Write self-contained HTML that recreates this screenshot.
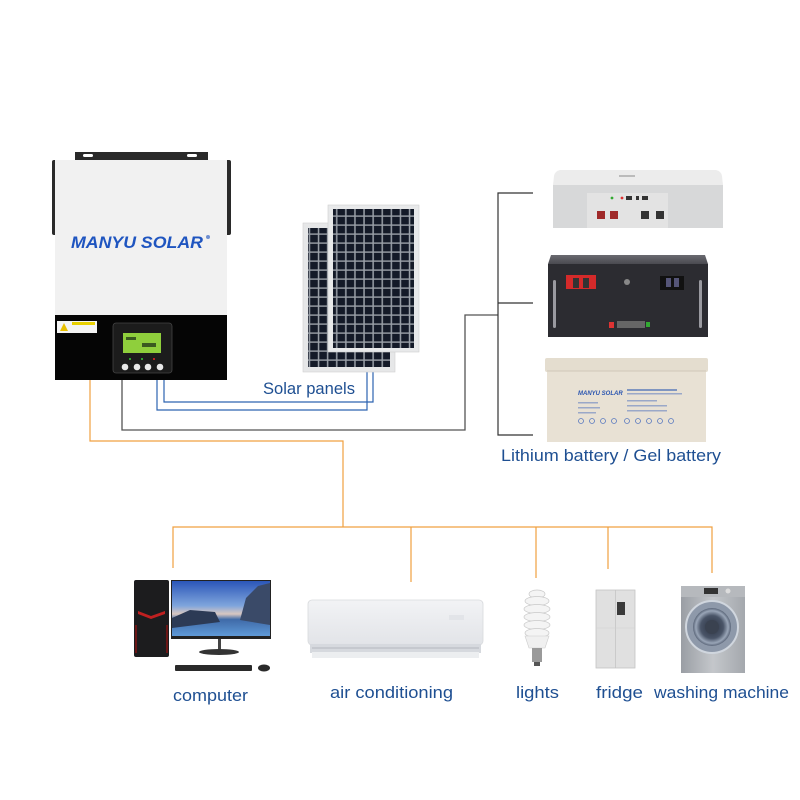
<!DOCTYPE html>
<html><head><meta charset="utf-8"><style>
html,body{margin:0;padding:0;background:#fff;}
svg{display:block;}
text{font-family:"Liberation Sans",sans-serif;}
</style></head><body>
<svg width="800" height="800" viewBox="0 0 800 800" xmlns="http://www.w3.org/2000/svg">
<defs>
<pattern id="cells" x="0" y="0" width="9.1" height="9" patternUnits="userSpaceOnUse">
<rect width="9.1" height="9" fill="#9aa0a8"/>
<rect x="0.8" y="0.8" width="7.6" height="7.6" fill="#141a28"/>
</pattern>
<linearGradient id="sky" x1="0" y1="0" x2="0" y2="1">
<stop offset="0" stop-color="#2b56b8"/><stop offset="0.45" stop-color="#7fa5dc"/><stop offset="0.6" stop-color="#d9c7c0"/><stop offset="0.7" stop-color="#3f6aa8"/><stop offset="1" stop-color="#5f9ad8"/>
</linearGradient>
<linearGradient id="ac" x1="0" y1="0" x2="0" y2="1">
<stop offset="0" stop-color="#f2f3f5"/><stop offset="1" stop-color="#e2e4e8"/>
</linearGradient>
<linearGradient id="wm" x1="0" y1="0" x2="1" y2="0">
<stop offset="0" stop-color="#9a9ea4"/><stop offset="0.5" stop-color="#c4c7cb"/><stop offset="1" stop-color="#a4a8ad"/>
</linearGradient>
<linearGradient id="btop" x1="0" y1="0" x2="0" y2="1">
<stop offset="0" stop-color="#6a6a70"/><stop offset="1" stop-color="#4a4a50"/>
</linearGradient>
<radialGradient id="door" cx="0.5" cy="0.5" r="0.5">
<stop offset="0" stop-color="#2a3140"/><stop offset="0.6" stop-color="#4a5568"/><stop offset="0.85" stop-color="#9aa6b8"/><stop offset="1" stop-color="#5a6578"/>
</radialGradient>
</defs>

<!-- ===== Inverter ===== -->
<rect x="75" y="152" width="133" height="8" fill="#2a2a2a"/>
<rect x="83" y="154" width="10" height="3" rx="1.5" fill="#fff"/>
<rect x="187" y="154" width="10" height="3" rx="1.5" fill="#fff"/>
<rect x="52" y="160" width="6" height="75" rx="2" fill="#2a2a2a"/>
<rect x="225" y="160" width="6" height="75" rx="2" fill="#2a2a2a"/>
<rect x="55" y="160" width="172" height="156" fill="#f1f1f1"/>
<rect x="55" y="315" width="172" height="65" fill="#050505"/>
<text x="71" y="248" font-size="16.5" font-weight="bold" font-style="italic" fill="#1f55c0" textLength="132" lengthAdjust="spacingAndGlyphs">MANYU SOLAR</text>
<circle cx="208" cy="237" r="2" fill="#6f8fd0"/>
<rect x="57" y="321" width="40" height="12" fill="#f4f4f4"/>
<polygon points="60,331 64,323 68,331" fill="#e8c000"/>
<rect x="72" y="322" width="23" height="3" fill="#e8d000"/>
<rect x="113" y="323" width="59" height="50" rx="3" fill="#1c1c1c" stroke="#444" stroke-width="0.8"/>
<rect x="123" y="333" width="38" height="20" fill="#8fcf3c"/>
<rect x="126" y="337" width="10" height="3" fill="#3a5a20"/>
<rect x="142" y="343" width="14" height="4" fill="#3a5a20"/>
<circle cx="130" cy="359" r="1" fill="#3c3"/><circle cx="142" cy="359" r="1" fill="#3c3"/><circle cx="154" cy="359" r="1" fill="#e22"/>
<circle cx="125" cy="367" r="3.3" fill="#e8e8e8"/><circle cx="137" cy="367" r="3.3" fill="#e8e8e8"/><circle cx="148" cy="367" r="3.3" fill="#e8e8e8"/><circle cx="160" cy="367" r="3.3" fill="#e8e8e8"/>

<!-- ===== Wires ===== -->
<g fill="none" stroke-width="1.2">
<polyline points="90,380 90,441 343,441 343,527" stroke="#f0a040"/>
<polyline points="173,568 173,527 712,527 712,573" stroke="#f0a040"/>
<line x1="411" y1="527" x2="411" y2="582" stroke="#f0a040"/>
<line x1="536" y1="527" x2="536" y2="578" stroke="#f0a040"/>
<line x1="608" y1="527" x2="608" y2="569" stroke="#f0a040"/>
<polyline points="122,380 122,430 465,430 465,315 498,315" stroke="#555" stroke-width="1.3"/>
<polyline points="533,193 498,193 498,435 533,435" stroke="#333"/>
<line x1="498" y1="303" x2="533" y2="303" stroke="#333"/>
<polyline points="157,380 157,410 367,410 367,367" stroke="#2d63b0"/>
<polyline points="164,380 164,402 373,402 373,367" stroke="#2d63b0"/>
</g>

<!-- ===== Solar panels ===== -->
<rect x="303" y="223" width="92" height="149" fill="#e6e7e8" stroke="#d0d0d0" stroke-width="0.6"/>
<rect x="308" y="228" width="82" height="139" fill="url(#cells)"/>
<rect x="328" y="205" width="91" height="147" fill="#e8e9ea" stroke="#cfcfcf" stroke-width="0.6"/>
<rect x="333" y="209" width="81" height="139" fill="url(#cells)"/>
<text x="263" y="394" font-size="16.5" fill="#1e4f92" textLength="92" lengthAdjust="spacingAndGlyphs">Solar panels</text>

<!-- ===== Batteries ===== -->
<!-- white lithium -->
<path d="M560,170 L716,170 Q721,171 722,176 L723,185 L553,185 L554,176 Q555,171 560,170 Z" fill="#ececec"/>
<rect x="553" y="185" width="170" height="43" fill="#d7d8d9"/>
<rect x="587" y="193" width="81" height="35" fill="#e3e3e3"/>
<rect x="619" y="175" width="16" height="2" fill="#bbb"/>
<circle cx="612" cy="198" r="1.4" fill="#3a3"/><circle cx="622" cy="198" r="1.4" fill="#d33"/>
<rect x="626" y="196" width="6" height="4" fill="#333"/><rect x="636" y="196" width="3" height="4" fill="#333"/><rect x="642" y="196" width="6" height="4" fill="#333"/>
<rect x="597" y="211" width="8" height="8" fill="#a02a2a"/><rect x="610" y="211" width="8" height="8" fill="#a02a2a"/>
<rect x="641" y="211" width="8" height="8" fill="#333"/><rect x="656" y="211" width="8" height="8" fill="#333"/>
<!-- black lithium -->
<polygon points="551,255 705,255 708,264 548,264" fill="url(#btop)"/>
<rect x="548" y="264" width="160" height="73" fill="#2c2c31"/>
<rect x="566" y="275" width="30" height="14" fill="#d42a2a"/>
<rect x="573" y="278" width="6" height="10" fill="#333"/><rect x="583" y="278" width="6" height="10" fill="#333"/>
<rect x="660" y="276" width="24" height="14" fill="#111"/>
<rect x="666" y="278" width="5" height="9" fill="#557"/><rect x="674" y="278" width="5" height="9" fill="#557"/>
<circle cx="627" cy="282" r="3" fill="#888"/>
<rect x="553" y="280" width="3" height="48" rx="1.5" fill="#9a9aa0"/>
<rect x="699" y="280" width="3" height="48" rx="1.5" fill="#9a9aa0"/>
<rect x="609" y="322" width="5" height="6" fill="#d33"/>
<rect x="617" y="321" width="28" height="7" fill="#666"/>
<rect x="646" y="322" width="4" height="5" fill="#3a3"/>
<!-- gel -->
<rect x="545" y="358" width="163" height="14" rx="2" fill="#e4ddcf"/>
<rect x="547" y="371" width="159" height="71" fill="#e8e1d4"/>
<line x1="547" y1="371" x2="706" y2="371" stroke="#d0c8b8" stroke-width="1"/>
<text x="578" y="395" font-size="6" font-weight="bold" font-style="italic" fill="#2a55b0">MANYU SOLAR</text>
<rect x="627" y="389" width="50" height="2" fill="#7f95c0"/>
<rect x="627" y="393" width="55" height="1.5" fill="#9aa8c8"/>
<rect x="578" y="402" width="20" height="1.5" fill="#9aa8c8"/><rect x="578" y="407" width="22" height="1.5" fill="#9aa8c8"/><rect x="578" y="412" width="18" height="1.5" fill="#9aa8c8"/>
<rect x="627" y="400" width="30" height="1.5" fill="#9aa8c8"/><rect x="627" y="405" width="40" height="1.5" fill="#9aa8c8"/><rect x="627" y="410" width="40" height="1.5" fill="#9aa8c8"/>
<g fill="none" stroke="#5a7ac0" stroke-width="0.8">
<circle cx="581" cy="421" r="2.5"/><circle cx="592" cy="421" r="2.5"/><circle cx="603" cy="421" r="2.5"/><circle cx="614" cy="421" r="2.5"/><circle cx="627" cy="421" r="2.5"/><circle cx="638" cy="421" r="2.5"/><circle cx="649" cy="421" r="2.5"/><circle cx="660" cy="421" r="2.5"/><circle cx="671" cy="421" r="2.5"/>
</g>
<text x="501" y="461" font-size="17" fill="#1e4f92" textLength="220" lengthAdjust="spacingAndGlyphs">Lithium battery / Gel battery</text>

<!-- ===== Computer ===== -->
<rect x="134" y="580" width="35" height="77" rx="2" fill="#1c1c1e"/>
<polygon points="138,611 151,616 165,611 165,614 151,619 138,614" fill="#c02020"/>
<rect x="135" y="625" width="2" height="28" fill="#6a1515"/><rect x="166" y="625" width="2" height="28" fill="#6a1515"/>
<rect x="171" y="580" width="100" height="59" fill="#222"/>
<rect x="172" y="581" width="98" height="55" fill="url(#sky)"/>
<polygon points="240,620 246,598 258,586 270,583 270,625" fill="#3a4a68"/>
<polygon points="172,618 190,610 215,612 220,622 172,628" fill="#2c3a55"/>
<rect x="218" y="639" width="3" height="12" fill="#444"/>
<ellipse cx="219" cy="652" rx="20" ry="3" fill="#333"/>
<rect x="175" y="665" width="77" height="6" rx="1" fill="#2a2a2a"/>
<ellipse cx="264" cy="668" rx="6" ry="3.5" fill="#2a2a2a"/>
<text x="173" y="701" font-size="17" fill="#1e4f92" textLength="75" lengthAdjust="spacingAndGlyphs">computer</text>

<!-- ===== AC ===== -->
<rect x="308" y="600" width="175" height="45" rx="4" fill="url(#ac)" stroke="#d8dadd" stroke-width="0.8"/>
<rect x="310" y="644" width="171" height="9" fill="#d6d9de"/>
<rect x="312" y="652" width="167" height="6" fill="#eceef0"/>
<line x1="312" y1="648" x2="479" y2="648" stroke="#a8acb2" stroke-width="0.8"/>
<rect x="449" y="615" width="15" height="5" fill="#e2e4e8"/>
<text x="330" y="698" font-size="17" fill="#1e4f92" textLength="123" lengthAdjust="spacingAndGlyphs">air conditioning</text>

<!-- ===== Light bulb ===== -->
<g fill="#f4f4f4" stroke="#c8c8c8" stroke-width="0.7">
<ellipse cx="537" cy="594" rx="8" ry="4"/>
<ellipse cx="537" cy="601" rx="12" ry="4.5"/>
<ellipse cx="537" cy="609" rx="13" ry="4.5"/>
<ellipse cx="537" cy="617" rx="13" ry="4.5"/>
<ellipse cx="537" cy="625" rx="13" ry="4.5"/>
<ellipse cx="537" cy="633" rx="12" ry="4.5"/>
</g>
<polygon points="525,636 549,636 545,648 529,648" fill="#f0f0f0" stroke="#ccc" stroke-width="0.6"/>
<rect x="532" y="648" width="10" height="14" fill="#9a9a9a"/>
<rect x="534" y="662" width="6" height="4" fill="#555"/>
<text x="516" y="698" font-size="17" fill="#1e4f92" textLength="43" lengthAdjust="spacingAndGlyphs">lights</text>

<!-- ===== Fridge ===== -->
<rect x="596" y="590" width="39" height="78" fill="#e0e0e0" stroke="#c4c4c4" stroke-width="0.8"/>
<line x1="615.5" y1="590" x2="615.5" y2="668" stroke="#c4c4c4" stroke-width="0.8"/>
<line x1="596" y1="628" x2="635" y2="628" stroke="#cfcfcf" stroke-width="0.6"/>
<rect x="617" y="602" width="8" height="13" fill="#3a3a3a"/>
<text x="596" y="698" font-size="17" fill="#1e4f92" textLength="47" lengthAdjust="spacingAndGlyphs">fridge</text>

<!-- ===== Washing machine ===== -->
<rect x="681" y="586" width="64" height="87" fill="url(#wm)"/>
<rect x="681" y="586" width="64" height="11" fill="#b6b9bd"/>
<rect x="704" y="588" width="14" height="6" fill="#333"/>
<circle cx="728" cy="591" r="2.5" fill="#ddd"/>
<circle cx="712" cy="627" r="26" fill="#8e99aa" stroke="#d0d6de" stroke-width="2"/>
<circle cx="712" cy="627" r="19" fill="url(#door)"/>
<circle cx="712" cy="627" r="7" fill="#3a4250"/>
<text x="654" y="698" font-size="17" fill="#1e4f92" textLength="135" lengthAdjust="spacingAndGlyphs">washing machine</text>
</svg>
</body></html>
